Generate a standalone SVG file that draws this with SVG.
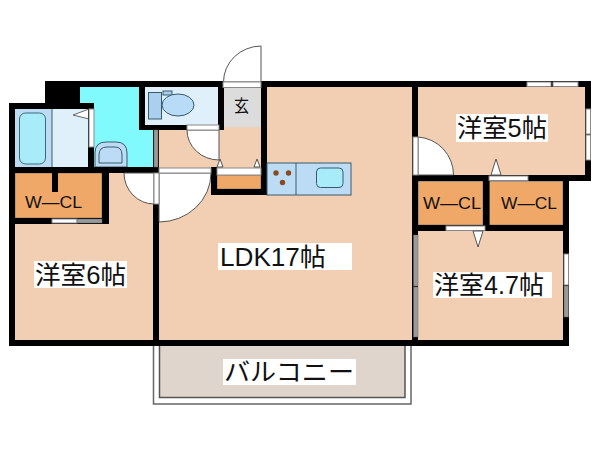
<svg xmlns="http://www.w3.org/2000/svg" width="600" height="450" viewBox="0 0 600 450">
<style>
.w{fill:#000}
.p{fill:#f2cfb3}
.o{fill:#f0a868;stroke:#555;stroke-width:.5}
.d{fill:#fff;stroke:#555;stroke-width:1}
.s{fill:#fff;stroke:#888;stroke-width:1}
.g{fill:#9a9a9a;stroke:#666;stroke-width:.5}
.b{fill:#bcdcf5;stroke:#3a5a6a;stroke-width:1}
.lb{fill:#fff}
text{font-family:"Liberation Sans","Noto Sans CJK JP",sans-serif;fill:#111}
.t{font-size:25px}
.c{font-size:16px}
</style>
<rect width="600" height="450" fill="#fff"/>
<g id="balcony">
<rect x="153.500" y="340" width="257.500" height="64" fill="#fff" stroke="#666" stroke-width="1.500"/>
<rect x="159.500" y="340" width="245.500" height="57.500" fill="#e0d5cc" stroke="#555" stroke-width="1.500"/>
</g>
<g id="floors">
<rect class="p" x="15" y="173" width="139" height="167"/>
<rect class="p" x="159" y="87" width="254" height="253"/>
<rect class="p" x="159" y="130" width="102" height="37"/>
<rect class="p" x="418" y="87" width="167" height="88"/>
<rect class="p" x="418" y="231" width="146" height="109"/>
</g>
<g id="washroom">
<path d="M80 87H140V130H154V167H94V103H80Z" fill="#80fafc"/>
<rect x="15" y="109" width="37" height="58" fill="#bcdcf5"/>
<rect x="52" y="109" width="37" height="58" fill="#dff0fb"/>
<rect x="19.500" y="113" width="26" height="51" rx="6" fill="#a8ecfa" stroke="#3a6a7a" stroke-width="1"/>
<path d="M52 109V167" stroke="#3a5a6a" fill="none"/>
<path d="M89 109V119L73 115Z" fill="#fff" stroke="#666" stroke-width="1"/>
<path d="M95 167V153Q95 142 106 142H116Q127 142 127 153V167Z" class="b"/>
<path d="M99 163V155Q99 147 107 147H115Q122 147 122 155V163Z" fill="#bcdcf5" stroke="#3a5a6a"/>
</g>
<g id="toilet">
<rect x="145" y="87" width="73" height="38" fill="#dff0fb"/>
<rect x="163" y="91" width="9" height="4" fill="#a9d0ee" stroke="#3a5a6a"/>
<ellipse cx="178" cy="105" rx="16" ry="11" fill="#b8dbf8" stroke="#3a5a6a"/>
<rect x="148.500" y="92.500" width="13" height="26.500" fill="#a9d0ee" stroke="#3a5a6a"/>
</g>
<g id="entry">
<rect x="224" y="87" width="37" height="40" fill="#dcdcdc"/>
</g>
<g id="closets">
<rect class="o" x="15" y="173" width="87" height="45"/>
<rect class="o" x="418.500" y="181.500" width="64.500" height="43.500"/>
<rect class="o" x="489.500" y="181.500" width="73.500" height="43.500"/>
<rect class="o" x="217" y="175" width="44" height="14"/>
</g>
<g id="walls" class="w">
<rect x="45" y="81" width="546" height="6"/>
<rect x="45" y="81" width="35" height="28"/>
<rect x="9" y="103" width="85" height="6"/>
<rect x="9" y="103" width="6" height="243"/>
<rect x="9" y="340" width="560" height="6"/>
<rect x="9" y="167" width="149" height="6"/>
<rect x="88" y="103" width="6" height="64"/>
<rect x="139" y="81" width="6" height="49"/>
<rect x="139" y="125" width="48" height="5"/>
<rect x="218" y="81" width="6" height="49"/>
<rect x="261" y="81" width="6" height="114"/>
<rect x="153" y="125" width="6" height="215"/>
<rect x="211" y="167" width="6" height="28"/>
<rect x="211" y="189" width="56" height="6"/>
<rect x="9" y="218" width="100" height="6"/>
<rect x="102" y="173" width="7" height="51"/>
<rect x="52" y="173" width="6" height="19"/>
<rect x="412" y="81" width="6" height="265"/>
<rect x="585" y="81" width="6" height="100"/>
<rect x="412" y="175" width="179" height="6"/>
<rect x="412" y="225" width="157" height="6"/>
<rect x="483" y="175" width="6.500" height="56"/>
<rect x="563" y="175" width="6" height="171"/>
</g>
<g id="kitchen">
<rect x="267" y="163" width="84" height="32" fill="#bcdcf5" stroke="#3a5a6a"/>
<path d="M296 163V195" stroke="#3a5a6a" fill="none"/>
<rect x="316.500" y="168" width="26.500" height="19.500" rx="4" fill="#a8ecfa" stroke="#3a5a6a"/>
<circle cx="276" cy="173" r="2.700" fill="#8a4a20"/><circle cx="288.500" cy="173" r="2.700" fill="#8a4a20"/><circle cx="282.500" cy="182.500" r="2.700" fill="#8a4a20"/>
</g>
<g id="doors">
<rect class="s" x="217" y="168" width="44" height="7"/>
<path class="d" d="M261 46V82H223.500A38 36 0 0 1 261 46Z"/>
<rect class="s" x="223" y="82" width="38" height="5.500"/>
<path class="d" d="M187 130H219V160A32 30 0 0 1 187 130Z"/>
<rect class="s" x="187" y="125" width="32" height="5"/>
<path d="M217 167L220 159L223 167ZM254 167L257 159L260 167Z" fill="#fff" stroke="#555"/>
<path class="d" d="M159 173H211A52 49 0 0 1 159 222Z"/>
<rect class="s" x="159" y="168" width="52" height="5"/>
<path class="d" d="M124 173H154V204A30 31 0 0 1 124 173Z"/>
<rect class="s" x="154" y="173" width="5" height="31"/>
<path class="d" d="M418 137A38 38 0 0 1 453.500 175H418Z"/>
<rect class="s" x="413" y="137" width="5" height="38"/>
<rect class="s" x="489" y="176" width="39" height="4.500"/>
<path d="M491 175L496 159L501 175Z" fill="#fff" stroke="#555"/>
<rect class="s" x="446" y="226" width="39" height="4.500"/>
<path d="M473 231L478 247L483 231Z" fill="#fff" stroke="#555"/>
<rect class="s" x="89" y="109" width="5" height="38"/>
<rect class="g" x="154" y="130" width="4" height="37"/>
<rect class="s" x="52" y="219" width="25" height="4"/><rect class="g" x="77" y="219" width="25" height="4"/>
</g>
<g id="windows">
<rect class="s" x="527" y="82" width="24" height="4.500"/><rect class="s" x="553" y="82" width="25" height="4.500"/>
<rect class="s" x="586" y="109" width="4.500" height="25"/><rect class="s" x="586" y="135" width="4.500" height="25"/>
<rect class="g" x="413.500" y="235" width="4.500" height="51"/><rect class="g" x="413.500" y="287" width="4.500" height="50"/>
<rect class="s" x="564" y="254" width="4.500" height="31"/><rect class="g" x="564" y="286" width="4.500" height="31"/>
</g>
<g id="labels">
<rect class="lb" x="34" y="261" width="93" height="27"/>
<text class="t" x="35" y="284" textLength="91" lengthAdjust="spacingAndGlyphs">洋室6帖</text>
<rect class="lb" x="218" y="243" width="134" height="27"/>
<text class="t" x="220" y="266" textLength="106" lengthAdjust="spacingAndGlyphs">LDK17帖</text>
<rect class="lb" x="223" y="359" width="133" height="26"/>
<text class="t" x="224" y="381" textLength="130" lengthAdjust="spacingAndGlyphs">バルコニー</text>
<rect class="lb" x="456" y="114" width="92" height="28"/>
<text class="t" x="457" y="137" textLength="90" lengthAdjust="spacingAndGlyphs">洋室5帖</text>
<rect class="lb" x="433" y="272" width="119" height="26"/>
<text class="t" x="434" y="294" textLength="110" lengthAdjust="spacingAndGlyphs">洋室4.7帖</text>
<text class="c" x="25" y="208" textLength="57" lengthAdjust="spacingAndGlyphs">W—CL</text>
<text class="c" x="423" y="209" textLength="58" lengthAdjust="spacingAndGlyphs">W—CL</text>
<text class="c" x="501" y="209" textLength="56" lengthAdjust="spacingAndGlyphs">W—CL</text>
<text x="234" y="112" font-size="17" textLength="15" lengthAdjust="spacingAndGlyphs">玄</text>
</g>
</svg>
